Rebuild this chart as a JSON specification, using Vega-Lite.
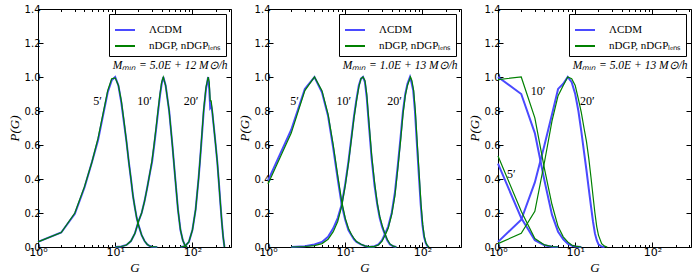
{
"$schema": "https://vega.github.io/schema/vega-lite/v6.json",
"background": "white",
"padding": {"left": 8, "top": 4, "right": 5, "bottom": 2},
"config": {
  "view": {"stroke": null},
  "axis": {"domainColor": "black", "tickColor": "black", "labelColor": "black", "labelFont": "DejaVu Sans", "labelFontSize": 10, "titleFont": "Liberation Serif", "titleFontStyle": "italic", "titleFontWeight": "normal", "titleFontSize": 13, "titleColor": "black", "grid": false, "labelFlush": false, "labelOverlap": false},
  "legend": {"orient": "top-right", "offset": 5, "strokeColor": "black", "fillColor": "white", "padding": 5, "symbolType": "stroke", "symbolSize": 400, "symbolStrokeWidth": 2, "labelFont": "Liberation Serif", "labelFontSize": 11, "labelColor": "black", "rowPadding": -4, "labelOffset": 13}
},
"datasets": {
  "p1": [
    {"G":1,"P":0.03,"m":"L","s":5},{"G":2,"P":0.085,"m":"L","s":5},{"G":3,"P":0.195,"m":"L","s":5},{"G":4,"P":0.35,"m":"L","s":5},{"G":5,"P":0.5,"m":"L","s":5},{"G":6,"P":0.63,"m":"L","s":5},{"G":7,"P":0.78,"m":"L","s":5},{"G":8,"P":0.91,"m":"L","s":5},{"G":9,"P":0.98,"m":"L","s":5},{"G":10,"P":1.0,"m":"L","s":5},{"G":11,"P":0.95,"m":"L","s":5},{"G":12,"P":0.85,"m":"L","s":5},{"G":13,"P":0.73,"m":"L","s":5},{"G":14,"P":0.62,"m":"L","s":5},{"G":15,"P":0.5,"m":"L","s":5},{"G":16,"P":0.4,"m":"L","s":5},{"G":17,"P":0.3,"m":"L","s":5},{"G":18,"P":0.23,"m":"L","s":5},{"G":19,"P":0.17,"m":"L","s":5},{"G":20,"P":0.13,"m":"L","s":5},{"G":22,"P":0.07,"m":"L","s":5},{"G":24,"P":0.035,"m":"L","s":5},{"G":26,"P":0.015,"m":"L","s":5},{"G":28,"P":0.006,"m":"L","s":5},{"G":30,"P":0.002,"m":"L","s":5},{"G":35,"P":0,"m":"L","s":5},
    {"G":10,"P":0,"m":"L","s":10},{"G":12,"P":0.003,"m":"L","s":10},{"G":14,"P":0.012,"m":"L","s":10},{"G":16,"P":0.035,"m":"L","s":10},{"G":18,"P":0.08,"m":"L","s":10},{"G":20,"P":0.15,"m":"L","s":10},{"G":22,"P":0.2,"m":"L","s":10},{"G":24,"P":0.27,"m":"L","s":10},{"G":26,"P":0.35,"m":"L","s":10},{"G":28,"P":0.43,"m":"L","s":10},{"G":30,"P":0.5,"m":"L","s":10},{"G":32,"P":0.6,"m":"L","s":10},{"G":34,"P":0.7,"m":"L","s":10},{"G":36,"P":0.8,"m":"L","s":10},{"G":38,"P":0.89,"m":"L","s":10},{"G":40,"P":0.96,"m":"L","s":10},{"G":42,"P":1.0,"m":"L","s":10},{"G":45,"P":0.95,"m":"L","s":10},{"G":50,"P":0.8,"m":"L","s":10},{"G":55,"P":0.6,"m":"L","s":10},{"G":60,"P":0.4,"m":"L","s":10},{"G":65,"P":0.22,"m":"L","s":10},{"G":70,"P":0.1,"m":"L","s":10},{"G":75,"P":0.04,"m":"L","s":10},{"G":80,"P":0.01,"m":"L","s":10},{"G":85,"P":0,"m":"L","s":10},
    {"G":70,"P":0,"m":"L","s":20},{"G":80,"P":0.005,"m":"L","s":20},{"G":90,"P":0.03,"m":"L","s":20},{"G":100,"P":0.1,"m":"L","s":20},{"G":110,"P":0.22,"m":"L","s":20},{"G":120,"P":0.4,"m":"L","s":20},{"G":125,"P":0.5,"m":"L","s":20},{"G":130,"P":0.6,"m":"L","s":20},{"G":140,"P":0.8,"m":"L","s":20},{"G":150,"P":0.93,"m":"L","s":20},{"G":160,"P":1.0,"m":"L","s":20},{"G":165,"P":0.93,"m":"L","s":20},{"G":170,"P":0.82,"m":"L","s":20},{"G":175,"P":0.83,"m":"L","s":20},{"G":180,"P":0.8,"m":"L","s":20},{"G":190,"P":0.7,"m":"L","s":20},{"G":200,"P":0.6,"m":"L","s":20},{"G":210,"P":0.5,"m":"L","s":20},{"G":220,"P":0.38,"m":"L","s":20},{"G":230,"P":0.26,"m":"L","s":20},{"G":240,"P":0.15,"m":"L","s":20},{"G":250,"P":0.06,"m":"L","s":20},{"G":260,"P":0,"m":"L","s":20},
    {"G":1,"P":0.03,"m":"N","s":5},{"G":2,"P":0.085,"m":"N","s":5},{"G":3,"P":0.2,"m":"N","s":5},{"G":4,"P":0.355,"m":"N","s":5},{"G":5,"P":0.5,"m":"N","s":5},{"G":6,"P":0.64,"m":"N","s":5},{"G":7,"P":0.79,"m":"N","s":5},{"G":8,"P":0.92,"m":"N","s":5},{"G":9,"P":0.99,"m":"N","s":5},{"G":10,"P":0.995,"m":"N","s":5},{"G":11,"P":0.95,"m":"N","s":5},{"G":12,"P":0.86,"m":"N","s":5},{"G":13,"P":0.74,"m":"N","s":5},{"G":14,"P":0.62,"m":"N","s":5},{"G":15,"P":0.5,"m":"N","s":5},{"G":16,"P":0.4,"m":"N","s":5},{"G":17,"P":0.3,"m":"N","s":5},{"G":18,"P":0.23,"m":"N","s":5},{"G":19,"P":0.17,"m":"N","s":5},{"G":20,"P":0.13,"m":"N","s":5},{"G":22,"P":0.07,"m":"N","s":5},{"G":24,"P":0.035,"m":"N","s":5},{"G":26,"P":0.015,"m":"N","s":5},{"G":28,"P":0.006,"m":"N","s":5},{"G":30,"P":0.002,"m":"N","s":5},{"G":35,"P":0,"m":"N","s":5},
    {"G":10,"P":0,"m":"N","s":10},{"G":12,"P":0.003,"m":"N","s":10},{"G":14,"P":0.012,"m":"N","s":10},{"G":16,"P":0.035,"m":"N","s":10},{"G":18,"P":0.08,"m":"N","s":10},{"G":20,"P":0.15,"m":"N","s":10},{"G":22,"P":0.2,"m":"N","s":10},{"G":24,"P":0.27,"m":"N","s":10},{"G":26,"P":0.35,"m":"N","s":10},{"G":28,"P":0.43,"m":"N","s":10},{"G":30,"P":0.51,"m":"N","s":10},{"G":32,"P":0.61,"m":"N","s":10},{"G":34,"P":0.71,"m":"N","s":10},{"G":36,"P":0.81,"m":"N","s":10},{"G":38,"P":0.9,"m":"N","s":10},{"G":40,"P":0.97,"m":"N","s":10},{"G":42,"P":1.0,"m":"N","s":10},{"G":45,"P":0.95,"m":"N","s":10},{"G":50,"P":0.8,"m":"N","s":10},{"G":55,"P":0.6,"m":"N","s":10},{"G":60,"P":0.4,"m":"N","s":10},{"G":65,"P":0.22,"m":"N","s":10},{"G":70,"P":0.1,"m":"N","s":10},{"G":75,"P":0.04,"m":"N","s":10},{"G":80,"P":0.01,"m":"N","s":10},{"G":85,"P":0,"m":"N","s":10},
    {"G":70,"P":0,"m":"N","s":20},{"G":80,"P":0.005,"m":"N","s":20},{"G":90,"P":0.03,"m":"N","s":20},{"G":100,"P":0.1,"m":"N","s":20},{"G":110,"P":0.22,"m":"N","s":20},{"G":120,"P":0.4,"m":"N","s":20},{"G":125,"P":0.5,"m":"N","s":20},{"G":130,"P":0.61,"m":"N","s":20},{"G":140,"P":0.81,"m":"N","s":20},{"G":150,"P":0.94,"m":"N","s":20},{"G":160,"P":1.0,"m":"N","s":20},{"G":165,"P":0.97,"m":"N","s":20},{"G":170,"P":0.86,"m":"N","s":20},{"G":175,"P":0.86,"m":"N","s":20},{"G":180,"P":0.81,"m":"N","s":20},{"G":190,"P":0.7,"m":"N","s":20},{"G":200,"P":0.6,"m":"N","s":20},{"G":210,"P":0.5,"m":"N","s":20},{"G":220,"P":0.38,"m":"N","s":20},{"G":230,"P":0.26,"m":"N","s":20},{"G":240,"P":0.15,"m":"N","s":20},{"G":250,"P":0.06,"m":"N","s":20},{"G":260,"P":0,"m":"N","s":20}
  ],
  "p2": [
    {"G":1,"P":0.39,"m":"L","s":5},{"G":2,"P":0.69,"m":"L","s":5},{"G":3,"P":0.93,"m":"L","s":5},{"G":4,"P":1.0,"m":"L","s":5},{"G":5,"P":0.91,"m":"L","s":5},{"G":6,"P":0.77,"m":"L","s":5},{"G":7,"P":0.58,"m":"L","s":5},{"G":8,"P":0.4,"m":"L","s":5},{"G":9,"P":0.25,"m":"L","s":5},{"G":10,"P":0.16,"m":"L","s":5},{"G":11,"P":0.1,"m":"L","s":5},{"G":12,"P":0.07,"m":"L","s":5},{"G":13,"P":0.045,"m":"L","s":5},{"G":14,"P":0.03,"m":"L","s":5},{"G":16,"P":0.015,"m":"L","s":5},{"G":18,"P":0.006,"m":"L","s":5},{"G":20,"P":0.002,"m":"L","s":5},{"G":24,"P":0,"m":"L","s":5},
    {"G":2,"P":0,"m":"L","s":10},{"G":3,"P":0.005,"m":"L","s":10},{"G":4,"P":0.015,"m":"L","s":10},{"G":5,"P":0.03,"m":"L","s":10},{"G":6,"P":0.06,"m":"L","s":10},{"G":7,"P":0.11,"m":"L","s":10},{"G":8,"P":0.17,"m":"L","s":10},{"G":9,"P":0.25,"m":"L","s":10},{"G":10,"P":0.37,"m":"L","s":10},{"G":11,"P":0.5,"m":"L","s":10},{"G":12,"P":0.64,"m":"L","s":10},{"G":13,"P":0.77,"m":"L","s":10},{"G":14,"P":0.87,"m":"L","s":10},{"G":15,"P":0.95,"m":"L","s":10},{"G":16,"P":0.99,"m":"L","s":10},{"G":17,"P":1.0,"m":"L","s":10},{"G":18,"P":0.97,"m":"L","s":10},{"G":19,"P":0.88,"m":"L","s":10},{"G":20,"P":0.75,"m":"L","s":10},{"G":22,"P":0.52,"m":"L","s":10},{"G":24,"P":0.36,"m":"L","s":10},{"G":26,"P":0.25,"m":"L","s":10},{"G":28,"P":0.17,"m":"L","s":10},{"G":30,"P":0.12,"m":"L","s":10},{"G":32,"P":0.085,"m":"L","s":10},{"G":35,"P":0.04,"m":"L","s":10},{"G":38,"P":0.015,"m":"L","s":10},{"G":42,"P":0.004,"m":"L","s":10},{"G":46,"P":0,"m":"L","s":10},
    {"G":20,"P":0,"m":"L","s":20},{"G":24,"P":0.005,"m":"L","s":20},{"G":27,"P":0.015,"m":"L","s":20},{"G":30,"P":0.04,"m":"L","s":20},{"G":33,"P":0.08,"m":"L","s":20},{"G":36,"P":0.12,"m":"L","s":20},{"G":40,"P":0.2,"m":"L","s":20},{"G":44,"P":0.32,"m":"L","s":20},{"G":48,"P":0.48,"m":"L","s":20},{"G":52,"P":0.64,"m":"L","s":20},{"G":56,"P":0.8,"m":"L","s":20},{"G":60,"P":0.9,"m":"L","s":20},{"G":64,"P":0.96,"m":"L","s":20},{"G":69,"P":1.0,"m":"L","s":20},{"G":72,"P":0.97,"m":"L","s":20},{"G":76,"P":0.92,"m":"L","s":20},{"G":80,"P":0.8,"m":"L","s":20},{"G":85,"P":0.6,"m":"L","s":20},{"G":90,"P":0.42,"m":"L","s":20},{"G":95,"P":0.25,"m":"L","s":20},{"G":100,"P":0.13,"m":"L","s":20},{"G":105,"P":0.06,"m":"L","s":20},{"G":110,"P":0.025,"m":"L","s":20},{"G":115,"P":0.008,"m":"L","s":20},{"G":120,"P":0,"m":"L","s":20},
    {"G":1,"P":0.37,"m":"N","s":5},{"G":2,"P":0.67,"m":"N","s":5},{"G":3,"P":0.92,"m":"N","s":5},{"G":4,"P":1.0,"m":"N","s":5},{"G":5,"P":0.92,"m":"N","s":5},{"G":6,"P":0.78,"m":"N","s":5},{"G":7,"P":0.6,"m":"N","s":5},{"G":8,"P":0.42,"m":"N","s":5},{"G":9,"P":0.27,"m":"N","s":5},{"G":10,"P":0.17,"m":"N","s":5},{"G":11,"P":0.11,"m":"N","s":5},{"G":12,"P":0.075,"m":"N","s":5},{"G":13,"P":0.05,"m":"N","s":5},{"G":14,"P":0.032,"m":"N","s":5},{"G":16,"P":0.016,"m":"N","s":5},{"G":18,"P":0.007,"m":"N","s":5},{"G":20,"P":0.002,"m":"N","s":5},{"G":24,"P":0,"m":"N","s":5},
    {"G":2,"P":0,"m":"N","s":10},{"G":3,"P":0.003,"m":"N","s":10},{"G":4,"P":0.008,"m":"N","s":10},{"G":5,"P":0.02,"m":"N","s":10},{"G":6,"P":0.045,"m":"N","s":10},{"G":7,"P":0.09,"m":"N","s":10},{"G":8,"P":0.15,"m":"N","s":10},{"G":9,"P":0.24,"m":"N","s":10},{"G":10,"P":0.36,"m":"N","s":10},{"G":11,"P":0.49,"m":"N","s":10},{"G":12,"P":0.63,"m":"N","s":10},{"G":13,"P":0.76,"m":"N","s":10},{"G":14,"P":0.86,"m":"N","s":10},{"G":15,"P":0.94,"m":"N","s":10},{"G":16,"P":0.99,"m":"N","s":10},{"G":17,"P":1.0,"m":"N","s":10},{"G":18,"P":0.98,"m":"N","s":10},{"G":19,"P":0.9,"m":"N","s":10},{"G":20,"P":0.77,"m":"N","s":10},{"G":22,"P":0.54,"m":"N","s":10},{"G":24,"P":0.38,"m":"N","s":10},{"G":26,"P":0.26,"m":"N","s":10},{"G":28,"P":0.18,"m":"N","s":10},{"G":30,"P":0.13,"m":"N","s":10},{"G":32,"P":0.09,"m":"N","s":10},{"G":35,"P":0.045,"m":"N","s":10},{"G":38,"P":0.018,"m":"N","s":10},{"G":42,"P":0.005,"m":"N","s":10},{"G":46,"P":0,"m":"N","s":10},
    {"G":20,"P":0,"m":"N","s":20},{"G":24,"P":0.004,"m":"N","s":20},{"G":27,"P":0.012,"m":"N","s":20},{"G":30,"P":0.035,"m":"N","s":20},{"G":33,"P":0.07,"m":"N","s":20},{"G":36,"P":0.11,"m":"N","s":20},{"G":40,"P":0.19,"m":"N","s":20},{"G":44,"P":0.3,"m":"N","s":20},{"G":48,"P":0.46,"m":"N","s":20},{"G":52,"P":0.62,"m":"N","s":20},{"G":56,"P":0.78,"m":"N","s":20},{"G":60,"P":0.89,"m":"N","s":20},{"G":64,"P":0.95,"m":"N","s":20},{"G":70,"P":1.0,"m":"N","s":20},{"G":73,"P":0.98,"m":"N","s":20},{"G":77,"P":0.92,"m":"N","s":20},{"G":81,"P":0.8,"m":"N","s":20},{"G":86,"P":0.6,"m":"N","s":20},{"G":91,"P":0.42,"m":"N","s":20},{"G":96,"P":0.25,"m":"N","s":20},{"G":101,"P":0.13,"m":"N","s":20},{"G":106,"P":0.06,"m":"N","s":20},{"G":111,"P":0.025,"m":"N","s":20},{"G":116,"P":0.008,"m":"N","s":20},{"G":122,"P":0,"m":"N","s":20}
  ],
  "p3": [
    {"G":1,"P":0.49,"m":"L","s":5},{"G":2,"P":0.17,"m":"L","s":5},{"G":3,"P":0.04,"m":"L","s":5},{"G":4,"P":0.01,"m":"L","s":5},{"G":5,"P":0.002,"m":"L","s":5},{"G":6,"P":0,"m":"L","s":5},
    {"G":1,"P":1.0,"m":"L","s":10},{"G":2,"P":0.9,"m":"L","s":10},{"G":3,"P":0.67,"m":"L","s":10},{"G":4,"P":0.39,"m":"L","s":10},{"G":5,"P":0.19,"m":"L","s":10},{"G":6,"P":0.09,"m":"L","s":10},{"G":7,"P":0.045,"m":"L","s":10},{"G":8,"P":0.02,"m":"L","s":10},{"G":9,"P":0.008,"m":"L","s":10},{"G":10,"P":0.003,"m":"L","s":10},{"G":12,"P":0,"m":"L","s":10},
    {"G":1,"P":0.03,"m":"L","s":20},{"G":2,"P":0.16,"m":"L","s":20},{"G":3,"P":0.38,"m":"L","s":20},{"G":4,"P":0.6,"m":"L","s":20},{"G":5,"P":0.78,"m":"L","s":20},{"G":6,"P":0.93,"m":"L","s":20},{"G":7,"P":0.96,"m":"L","s":20},{"G":8,"P":1.0,"m":"L","s":20},{"G":9,"P":0.97,"m":"L","s":20},{"G":10,"P":0.9,"m":"L","s":20},{"G":11,"P":0.8,"m":"L","s":20},{"G":12,"P":0.68,"m":"L","s":20},{"G":13,"P":0.56,"m":"L","s":20},{"G":14,"P":0.45,"m":"L","s":20},{"G":15,"P":0.34,"m":"L","s":20},{"G":16,"P":0.24,"m":"L","s":20},{"G":17,"P":0.15,"m":"L","s":20},{"G":18,"P":0.08,"m":"L","s":20},{"G":19,"P":0.04,"m":"L","s":20},{"G":20,"P":0.015,"m":"L","s":20},{"G":22,"P":0.003,"m":"L","s":20},{"G":24,"P":0,"m":"L","s":20},
    {"G":1,"P":0.535,"m":"N","s":5},{"G":2,"P":0.21,"m":"N","s":5},{"G":3,"P":0.05,"m":"N","s":5},{"G":4,"P":0.012,"m":"N","s":5},{"G":5,"P":0.003,"m":"N","s":5},{"G":6,"P":0,"m":"N","s":5},
    {"G":1,"P":0.985,"m":"N","s":10},{"G":2,"P":1.0,"m":"N","s":10},{"G":3,"P":0.76,"m":"N","s":10},{"G":4,"P":0.46,"m":"N","s":10},{"G":5,"P":0.25,"m":"N","s":10},{"G":6,"P":0.12,"m":"N","s":10},{"G":7,"P":0.06,"m":"N","s":10},{"G":8,"P":0.03,"m":"N","s":10},{"G":9,"P":0.012,"m":"N","s":10},{"G":10,"P":0.005,"m":"N","s":10},{"G":12,"P":0,"m":"N","s":10},
    {"G":1,"P":0.02,"m":"N","s":20},{"G":2,"P":0.08,"m":"N","s":20},{"G":3,"P":0.21,"m":"N","s":20},{"G":4,"P":0.5,"m":"N","s":20},{"G":5,"P":0.74,"m":"N","s":20},{"G":6,"P":0.89,"m":"N","s":20},{"G":7,"P":0.95,"m":"N","s":20},{"G":8,"P":1.0,"m":"N","s":20},{"G":9,"P":0.99,"m":"N","s":20},{"G":10,"P":0.95,"m":"N","s":20},{"G":11,"P":0.87,"m":"N","s":20},{"G":12,"P":0.79,"m":"N","s":20},{"G":13,"P":0.7,"m":"N","s":20},{"G":14,"P":0.62,"m":"N","s":20},{"G":15,"P":0.52,"m":"N","s":20},{"G":16,"P":0.41,"m":"N","s":20},{"G":17,"P":0.3,"m":"N","s":20},{"G":18,"P":0.2,"m":"N","s":20},{"G":19,"P":0.12,"m":"N","s":20},{"G":20,"P":0.07,"m":"N","s":20},{"G":22,"P":0.02,"m":"N","s":20},{"G":24,"P":0.005,"m":"N","s":20},{"G":26,"P":0,"m":"N","s":20}
  ],
  "lab": [
    {"panel":1,"G":5.9,"P":0.86,"t":"5′"},{"panel":1,"G":24,"P":0.86,"t":"10′"},{"panel":1,"G":96,"P":0.86,"t":"20′"},
    {"panel":2,"G":2.2,"P":0.86,"t":"5′"},{"panel":2,"G":9.6,"P":0.86,"t":"10′"},{"panel":2,"G":43.6,"P":0.86,"t":"20′"},
    {"panel":3,"G":1.49,"P":0.427,"t":"5′"},{"panel":3,"G":3.3,"P":0.918,"t":"10′"},{"panel":3,"G":14.4,"P":0.86,"t":"20′"}
  ],
  "mm": [
    {"panel":1,"G":285,"P":1.065,"t":"Mₘᵢₙ = 5.0E + 12 M⊙/h"},
    {"panel":2,"G":285,"P":1.065,"t":"Mₘᵢₙ = 1.0E + 13 M⊙/h"},
    {"panel":3,"G":285,"P":1.065,"t":"Mₘᵢₙ = 5.0E + 13 M⊙/h"}
  ]
},
"spacing": 37,
"bounds": "flush",
"resolve": {"scale": {"color": "independent"}, "legend": {"color": "independent"}},
"hconcat": [
 {
  "width": 193, "height": 238,
  "layer": [
   {"data": {"name": "p1"}, "transform": [{"filter": "datum.m=='L'"}], "mark": {"type": "line", "strokeWidth": 2},
    "encoding": {
     "x": {"field": "G", "type": "quantitative", "scale": {"type": "log", "domain": [1, 316], "nice": false}, "axis": {"orient": "bottom", "values": [1,2,3,4,5,6,7,8,9,10,20,30,40,50,60,70,80,90,100,200,300], "labelExpr": "datum.value==1?'10⁰':datum.value==10?'10¹':datum.value==100?'10²':''", "tickSize": {"condition": {"test": "datum.value==1||datum.value==10||datum.value==100", "value": -5}, "value": -2.5}, "labelPadding": 4, "labelFontSize": 11, "title": "G", "titlePadding": 2}},
     "y": {"field": "P", "type": "quantitative", "scale": {"domain": [0, 1.4], "nice": false}, "axis": {"orient": "left", "values": [0,0.2,0.4,0.6,0.8,1.0,1.2,1.4], "format": ".1f", "tickSize": -5, "labelPadding": 3, "title": "P(G)", "titlePadding": 3}},
     "detail": {"field": "s"},
     "color": {"field": "m", "type": "nominal", "scale": {"domain": ["L", "N"], "range": ["#4a4aff", "#008000"]}, "legend": {"title": null, "labelExpr": "datum.value=='L'?'ΛCDM':'nDGP, nDGPₗₑₙₛ'"}}
    }},
   {"data": {"name": "p1"}, "transform": [{"filter": "datum.m=='N'"}], "mark": {"type": "line", "strokeWidth": 1.2},
    "encoding": {
     "x": {"field": "G", "type": "quantitative", "axis": null},
     "y": {"field": "P", "type": "quantitative", "axis": null},
     "detail": {"field": "s"},
     "color": {"field": "m", "type": "nominal", "legend": {"title": null, "labelExpr": "datum.value=='L'?'ΛCDM':'nDGP, nDGPₗₑₙₛ'"}}
    }},
   {"data": {"name": "p1"}, "mark": {"type": "line", "opacity": 0},
    "encoding": {
     "x": {"field": "G", "type": "quantitative", "axis": {"orient": "top", "values": [1,2,3,4,5,6,7,8,9,10,20,30,40,50,60,70,80,90,100,200,300], "labels": false, "title": null, "tickSize": {"condition": {"test": "datum.value==1||datum.value==10||datum.value==100", "value": -5}, "value": -2.5}}},
     "y": {"field": "P", "type": "quantitative", "axis": {"orient": "right", "values": [0,0.2,0.4,0.6,0.8,1.0,1.2,1.4], "labels": false, "title": null, "tickSize": -5}},
     "detail": {"field": "s"}
    }},
   {"data": {"name": "lab"}, "transform": [{"filter": "datum.panel==1"}], "mark": {"type": "text", "font": "Liberation Serif", "fontSize": 12, "color": "black"},
    "encoding": {"x": {"field": "G", "type": "quantitative", "axis": null}, "y": {"field": "P", "type": "quantitative", "axis": null}, "text": {"field": "t"}}},
   {"data": {"name": "mm"}, "transform": [{"filter": "datum.panel==1"}], "mark": {"type": "text", "font": "Liberation Serif", "fontStyle": "italic", "fontSize": 11.5, "align": "right", "color": "black"},
    "encoding": {"x": {"field": "G", "type": "quantitative", "axis": null}, "y": {"field": "P", "type": "quantitative", "axis": null}, "text": {"field": "t"}}}
  ],
  "resolve": {"axis": {"x": "independent", "y": "independent"}}
 },
 {
  "width": 193, "height": 238,
  "layer": [
   {"data": {"name": "p2"}, "transform": [{"filter": "datum.m=='L'"}], "mark": {"type": "line", "strokeWidth": 2},
    "encoding": {
     "x": {"field": "G", "type": "quantitative", "scale": {"type": "log", "domain": [1, 316], "nice": false}, "axis": {"orient": "bottom", "values": [1,2,3,4,5,6,7,8,9,10,20,30,40,50,60,70,80,90,100,200,300], "labelExpr": "datum.value==1?'10⁰':datum.value==10?'10¹':datum.value==100?'10²':''", "tickSize": {"condition": {"test": "datum.value==1||datum.value==10||datum.value==100", "value": -5}, "value": -2.5}, "labelPadding": 4, "labelFontSize": 11, "title": "G", "titlePadding": 2}},
     "y": {"field": "P", "type": "quantitative", "scale": {"domain": [0, 1.4], "nice": false}, "axis": {"orient": "left", "values": [0,0.2,0.4,0.6,0.8,1.0,1.2,1.4], "format": ".1f", "tickSize": -5, "labelPadding": 3, "title": "P(G)", "titlePadding": 3}},
     "detail": {"field": "s"},
     "color": {"field": "m", "type": "nominal", "scale": {"domain": ["L", "N"], "range": ["#4a4aff", "#008000"]}, "legend": {"title": null, "labelExpr": "datum.value=='L'?'ΛCDM':'nDGP, nDGPₗₑₙₛ'"}}
    }},
   {"data": {"name": "p2"}, "transform": [{"filter": "datum.m=='N'"}], "mark": {"type": "line", "strokeWidth": 1.2},
    "encoding": {
     "x": {"field": "G", "type": "quantitative", "axis": null},
     "y": {"field": "P", "type": "quantitative", "axis": null},
     "detail": {"field": "s"},
     "color": {"field": "m", "type": "nominal", "legend": {"title": null, "labelExpr": "datum.value=='L'?'ΛCDM':'nDGP, nDGPₗₑₙₛ'"}}
    }},
   {"data": {"name": "p2"}, "mark": {"type": "line", "opacity": 0},
    "encoding": {
     "x": {"field": "G", "type": "quantitative", "axis": {"orient": "top", "values": [1,2,3,4,5,6,7,8,9,10,20,30,40,50,60,70,80,90,100,200,300], "labels": false, "title": null, "tickSize": {"condition": {"test": "datum.value==1||datum.value==10||datum.value==100", "value": -5}, "value": -2.5}}},
     "y": {"field": "P", "type": "quantitative", "axis": {"orient": "right", "values": [0,0.2,0.4,0.6,0.8,1.0,1.2,1.4], "labels": false, "title": null, "tickSize": -5}},
     "detail": {"field": "s"}
    }},
   {"data": {"name": "lab"}, "transform": [{"filter": "datum.panel==2"}], "mark": {"type": "text", "font": "Liberation Serif", "fontSize": 12, "color": "black"},
    "encoding": {"x": {"field": "G", "type": "quantitative", "axis": null}, "y": {"field": "P", "type": "quantitative", "axis": null}, "text": {"field": "t"}}},
   {"data": {"name": "mm"}, "transform": [{"filter": "datum.panel==2"}], "mark": {"type": "text", "font": "Liberation Serif", "fontStyle": "italic", "fontSize": 11.5, "align": "right", "color": "black"},
    "encoding": {"x": {"field": "G", "type": "quantitative", "axis": null}, "y": {"field": "P", "type": "quantitative", "axis": null}, "text": {"field": "t"}}}
  ],
  "resolve": {"axis": {"x": "independent", "y": "independent"}}
 },
 {
  "width": 193, "height": 238,
  "layer": [
   {"data": {"name": "p3"}, "transform": [{"filter": "datum.m=='L'"}], "mark": {"type": "line", "strokeWidth": 2},
    "encoding": {
     "x": {"field": "G", "type": "quantitative", "scale": {"type": "log", "domain": [1, 316], "nice": false}, "axis": {"orient": "bottom", "values": [1,2,3,4,5,6,7,8,9,10,20,30,40,50,60,70,80,90,100,200,300], "labelExpr": "datum.value==1?'10⁰':datum.value==10?'10¹':datum.value==100?'10²':''", "tickSize": {"condition": {"test": "datum.value==1||datum.value==10||datum.value==100", "value": -5}, "value": -2.5}, "labelPadding": 4, "labelFontSize": 11, "title": "G", "titlePadding": 2}},
     "y": {"field": "P", "type": "quantitative", "scale": {"domain": [0, 1.4], "nice": false}, "axis": {"orient": "left", "values": [0,0.2,0.4,0.6,0.8,1.0,1.2,1.4], "format": ".1f", "tickSize": -5, "labelPadding": 3, "title": "P(G)", "titlePadding": 3}},
     "detail": {"field": "s"},
     "color": {"field": "m", "type": "nominal", "scale": {"domain": ["L", "N"], "range": ["#4a4aff", "#008000"]}, "legend": {"title": null, "labelExpr": "datum.value=='L'?'ΛCDM':'nDGP, nDGPₗₑₙₛ'"}}
    }},
   {"data": {"name": "p3"}, "transform": [{"filter": "datum.m=='N'"}], "mark": {"type": "line", "strokeWidth": 1.2},
    "encoding": {
     "x": {"field": "G", "type": "quantitative", "axis": null},
     "y": {"field": "P", "type": "quantitative", "axis": null},
     "detail": {"field": "s"},
     "color": {"field": "m", "type": "nominal", "legend": {"title": null, "labelExpr": "datum.value=='L'?'ΛCDM':'nDGP, nDGPₗₑₙₛ'"}}
    }},
   {"data": {"name": "p3"}, "mark": {"type": "line", "opacity": 0},
    "encoding": {
     "x": {"field": "G", "type": "quantitative", "axis": {"orient": "top", "values": [1,2,3,4,5,6,7,8,9,10,20,30,40,50,60,70,80,90,100,200,300], "labels": false, "title": null, "tickSize": {"condition": {"test": "datum.value==1||datum.value==10||datum.value==100", "value": -5}, "value": -2.5}}},
     "y": {"field": "P", "type": "quantitative", "axis": {"orient": "right", "values": [0,0.2,0.4,0.6,0.8,1.0,1.2,1.4], "labels": false, "title": null, "tickSize": -5}},
     "detail": {"field": "s"}
    }},
   {"data": {"name": "lab"}, "transform": [{"filter": "datum.panel==3"}], "mark": {"type": "text", "font": "Liberation Serif", "fontSize": 12, "color": "black"},
    "encoding": {"x": {"field": "G", "type": "quantitative", "axis": null}, "y": {"field": "P", "type": "quantitative", "axis": null}, "text": {"field": "t"}}},
   {"data": {"name": "mm"}, "transform": [{"filter": "datum.panel==3"}], "mark": {"type": "text", "font": "Liberation Serif", "fontStyle": "italic", "fontSize": 11.5, "align": "right", "color": "black"},
    "encoding": {"x": {"field": "G", "type": "quantitative", "axis": null}, "y": {"field": "P", "type": "quantitative", "axis": null}, "text": {"field": "t"}}}
  ],
  "resolve": {"axis": {"x": "independent", "y": "independent"}}
 }
]
}
